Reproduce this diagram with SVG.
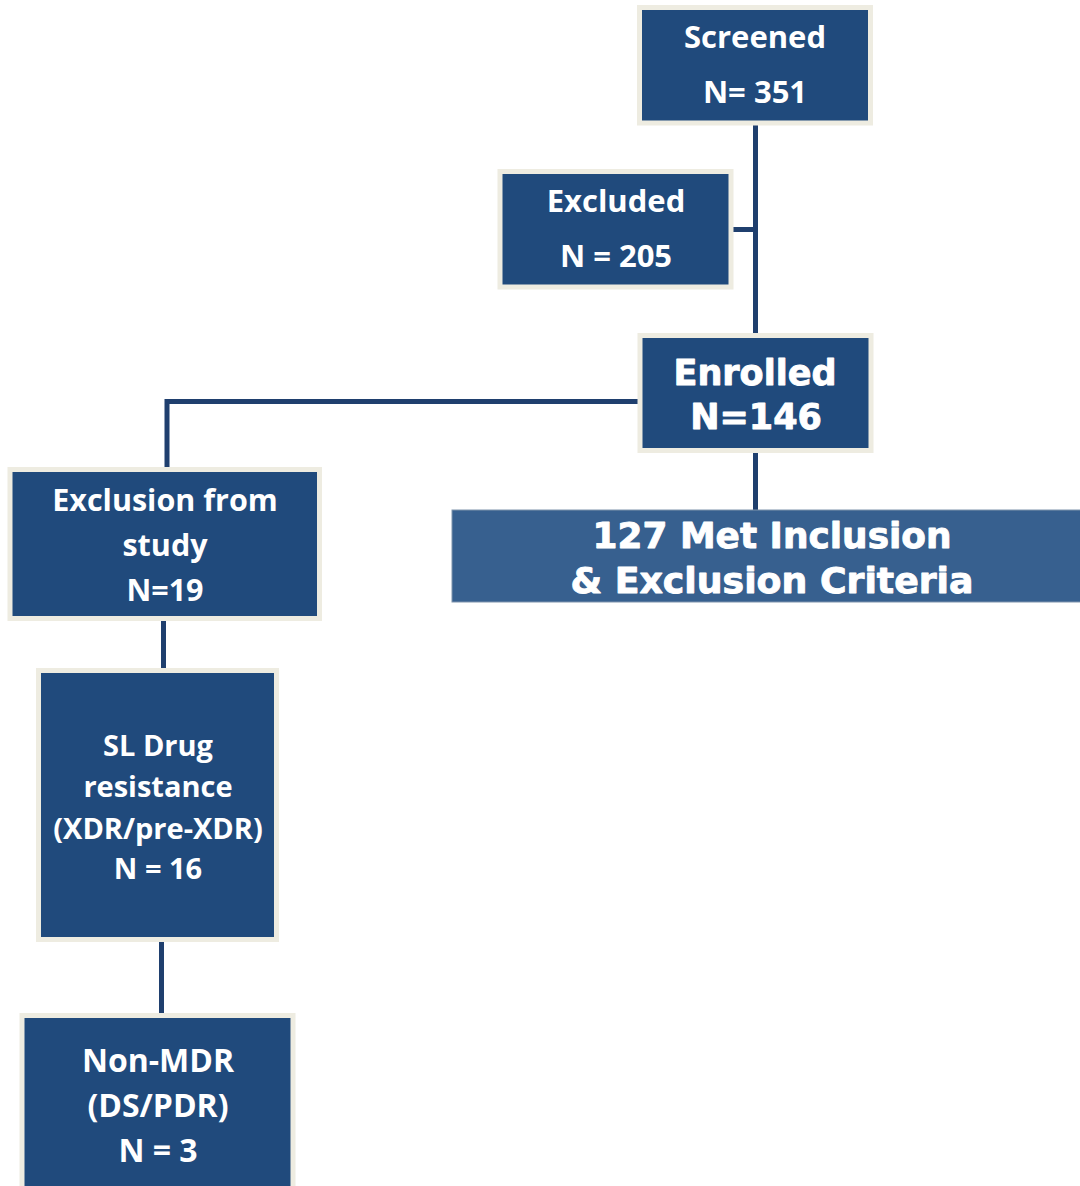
<svg xmlns="http://www.w3.org/2000/svg" width="1080" height="1186" viewBox="0 0 1080 1186">
<style>
.box{fill:#204A7C;stroke:#EEECE1;stroke-width:5}
.t{font-family:"Open Sans","Liberation Sans",sans-serif;font-weight:bold;fill:#FFFFFF;text-anchor:middle}
.h{font-family:"DejaVu Sans","Liberation Sans",sans-serif;font-weight:bold;fill:#FFFFFF;stroke:#FFFFFF;stroke-width:0.9;stroke-linejoin:round;text-anchor:middle}
.c{fill:none;stroke:#1F3F6E;stroke-width:5}
</style>
<rect width="1080" height="1186" fill="#FFFFFF"/>
<g id="connectors">
<line class="c" x1="755.5" y1="124" x2="755.5" y2="335"/>
<line class="c" x1="733" y1="229.5" x2="755.5" y2="229.5"/>
<polyline class="c" points="638,401.5 167,401.5 167,468"/>
<line class="c" x1="755.5" y1="452" x2="755.5" y2="511"/>
<line class="c" x1="163.5" y1="620" x2="163.5" y2="669"/>
<line class="c" x1="161.5" y1="941" x2="161.5" y2="1015"/>
</g>
<g id="screened">
<rect class="box" x="639.5" y="7.5" width="231" height="115.5"/>
<text class="t" x="755" y="48" font-size="31">Screened</text>
<text class="t" x="755" y="103" font-size="31">N= 351</text>
</g>
<g id="excluded">
<rect class="box" x="500" y="171.5" width="231" height="115.5"/>
<text class="t" x="616" y="212" font-size="31">Excluded</text>
<text class="t" x="616" y="267" font-size="31">N = 205</text>
</g>
<g id="enrolled">
<rect class="box" x="640" y="335.5" width="231" height="115"/>
<text class="h" x="755" y="385" font-size="35">Enrolled</text>
<text class="h" x="756" y="429" font-size="35">N=146</text>
</g>
<g id="met">
<rect x="452" y="510" width="630" height="92" fill="#37608F" stroke="#7F93AC" stroke-width="1"/>
<text class="h" x="772" y="548" font-size="35" textLength="359" lengthAdjust="spacingAndGlyphs">127 Met Inclusion</text>
<text class="h" x="772" y="593" font-size="35" textLength="403" lengthAdjust="spacingAndGlyphs">&amp; Exclusion Criteria</text>
</g>
<g id="exclusion">
<rect class="box" x="10" y="469.5" width="309.5" height="149"/>
<text class="t" x="165" y="511" font-size="30.5">Exclusion from</text>
<text class="t" x="165" y="556" font-size="30.5">study</text>
<text class="t" x="165" y="601" font-size="30.5">N=19</text>
</g>
<g id="sl">
<rect class="box" x="38.5" y="670.5" width="238" height="269"/>
<text class="t" x="158" y="756" font-size="29">SL Drug</text>
<text class="t" x="158" y="797" font-size="29">resistance</text>
<text class="t" x="158" y="839" font-size="29">(XDR/pre-XDR)</text>
<text class="t" x="158" y="879" font-size="29">N = 16</text>
</g>
<g id="nonmdr">
<rect class="box" x="22" y="1015.5" width="271" height="200"/>
<text class="t" x="158" y="1072" font-size="32">Non-MDR</text>
<text class="t" x="158" y="1117" font-size="32">(DS/PDR)</text>
<text class="t" x="158" y="1162" font-size="32">N = 3</text>
</g>
</svg>
